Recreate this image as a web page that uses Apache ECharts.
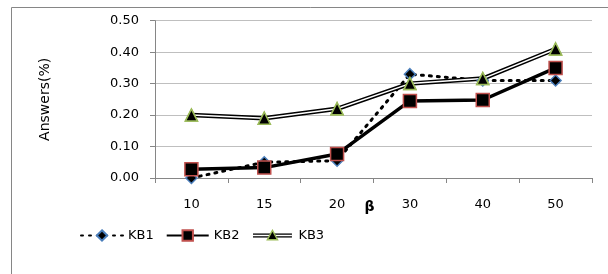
<!DOCTYPE html>
<html>
<head>
<meta charset="utf-8">
<script src="https://cdn.jsdelivr.net/npm/echarts@6/dist/echarts.min.js"></script>
<style>
  html, body { margin: 0; padding: 0; background: #fff; }
  #chart { width: 608px; height: 274px; }
</style>
</head>
<body>
<div id="chart"></div>
<script>
const categories = ['10', '15', '20', '30', '40', '50']
const kb1 = [0.00, 0.05, 0.055, 0.33, 0.31, 0.31]
const kb2 = [0.028, 0.033, 0.076, 0.245, 0.248, 0.35]
const kb3 = [0.20, 0.19, 0.22, 0.30, 0.316, 0.41]

const font = 'DejaVu Sans'
const chart = echarts.init(document.getElementById('chart'))

// double line legend icon for KB3, like the plotted line
const kb3Icon = 'image://data:image/svg+xml;charset=utf-8,' + encodeURIComponent(
  '<svg xmlns="http://www.w3.org/2000/svg" width="42" height="14" viewBox="0 0 42 14">' +
  '<rect x="0" y="4.8" width="42" height="4.4" fill="#000"/>' +
  '<rect x="0" y="6.2" width="42" height="1.6" fill="#fff"/>' +
  '<path d="M21 1.5 L26.5 11.5 L15.5 11.5 Z" fill="#000" stroke="#9bbb59" stroke-width="1.5"/>' +
  '</svg>')

const option = {
  animation: false,
  textStyle: { fontFamily: font },
  graphic: [{
    type: 'rect',
    shape: { x: 11.5, y: 7.5, width: 700, height: 400 },
    style: { fill: 'none', stroke: '#868686', lineWidth: 1 },
    silent: true
  }],
  grid: { left: 155, right: 16, top: 20.7, bottom: 96 },
  legend: {
    data: ['KB1', 'KB2', { name: 'KB3', icon: kb3Icon }],
    left: 75,
    top: 224,
    itemWidth: 42,
    itemHeight: 13,
    itemGap: 12,
    textStyle: { fontFamily: font, fontSize: 13, color: '#000' }
  },
  xAxis: {
    type: 'category',
    data: categories,
    boundaryGap: true,
    name: 'β',
    nameLocation: 'middle',
    nameGap: 29,
    nameMoveOverlap: false,
    nameTextStyle: { fontFamily: font, fontSize: 14, fontWeight: 'bold', color: '#000', verticalAlign: 'middle', padding: [0, 8, 0, 0] },
    axisLine: { lineStyle: { color: '#868686' } },
    axisTick: { show: true, length: 5, inside: false, lineStyle: { color: '#868686' } },
    axisLabel: { fontFamily: font, fontSize: 13, color: '#000', margin: 20 },
    splitLine: { show: false }
  },
  yAxis: {
    type: 'value',
    min: 0,
    max: 0.5,
    interval: 0.1,
    name: 'Answers(%)',
    nameLocation: 'middle',
    nameGap: 103,
    nameMoveOverlap: false,
    nameTextStyle: { fontFamily: font, fontSize: 14, color: '#000' },
    axisLine: { show: true, lineStyle: { color: '#868686' } },
    axisTick: { show: true, length: 5, lineStyle: { color: '#868686' } },
    axisLabel: { fontFamily: font, fontSize: 13, color: '#000', margin: 16, formatter: v => v.toFixed(2) },
    splitLine: { lineStyle: { color: '#bfbfbf' } }
  },
  series: [
    {
      name: 'KB1',
      type: 'line',
      data: kb1,
      symbol: 'diamond',
      symbolSize: 11,
      itemStyle: { color: '#000', borderColor: '#4a7ebb', borderWidth: 1.5 },
      lineStyle: { color: '#000', width: 3, type: [2, 6], cap: 'round' }
    },
    {
      name: 'KB2',
      type: 'line',
      data: kb2,
      symbol: 'rect',
      symbolSize: 13,
      itemStyle: { color: '#000', borderColor: '#c0504d', borderWidth: 1.5 },
      lineStyle: { color: '#000', width: 3.5 }
    },
    {
      name: 'KB3',
      type: 'line',
      data: kb3,
      symbol: 'triangle',
      symbolSize: 12,
      itemStyle: { color: '#000', borderColor: '#9bbb59', borderWidth: 1.5 },
      lineStyle: { color: '#000', width: 4.5 }
    },
    {
      name: 'KB3 inner',
      type: 'line',
      data: kb3,
      showSymbol: false,
      z: 3,
      lineStyle: { color: '#fff', width: 1.5 }
    },
    {
      name: 'KB3 marks',
      type: 'line',
      data: kb3,
      z: 4,
      symbol: 'triangle',
      symbolSize: 12,
      itemStyle: { color: '#000', borderColor: '#9bbb59', borderWidth: 1.5 },
      lineStyle: { width: 0, opacity: 0 }
    }
  ]
}

chart.setOption(option)
</script>
</body>
</html>
